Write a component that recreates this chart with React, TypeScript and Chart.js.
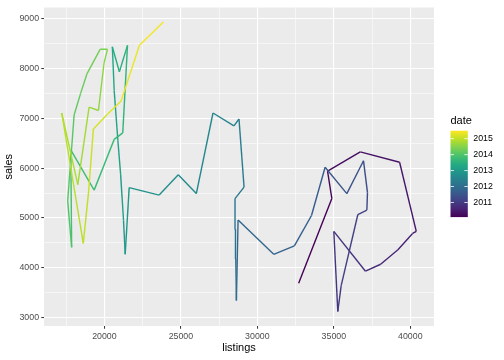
import React, { useEffect, useRef } from "react";
import { Chart, registerables } from "chart.js";

Chart.register(...registerables);

const months = [
  "2010-02", "2010-03", "2010-04", "2010-05", "2010-06", "2010-07", "2010-08", "2010-09", "2010-10", "2010-11", "2010-12",
  "2011-01", "2011-02", "2011-03", "2011-04", "2011-05", "2011-06", "2011-07", "2011-08", "2011-09", "2011-10", "2011-11", "2011-12",
  "2012-01", "2012-02", "2012-03", "2012-04", "2012-05", "2012-06", "2012-07", "2012-08", "2012-09", "2012-10", "2012-11", "2012-12",
  "2013-01", "2013-02", "2013-03", "2013-04", "2013-05", "2013-06", "2013-07", "2013-08", "2013-09", "2013-10", "2013-11", "2013-12",
  "2014-01", "2014-02", "2014-03", "2014-04", "2014-05", "2014-06", "2014-07", "2014-08", "2014-09", "2014-10", "2014-11", "2014-12",
  "2015-01", "2015-02", "2015-03", "2015-04", "2015-05", "2015-06", "2015-07",
];

const listings = [
  32700, 34870, 34590, 36730, 39300, 40390, 40150, 39190, 38060, 37070, 35000,
  35260, 35480, 36570, 37160, 37200, 36940, 35850, 34430, 33540, 32420, 31070, 28740,
  28630, 28590, 28570, 28540, 29130, 28800, 28470, 27100, 26010, 24830, 23580, 21620,
  21360, 21250, 21060, 20880, 20640, 20520, 20980, 21510, 21200, 20640, 19330, 17800,
  17860, 17600, 18020, 18440, 18850, 19720, 20200, 19980, 19610, 19000, 18260, 17210,
  18620, 18970, 19280, 20180, 21090, 22290, 23860,
];

const sales = [
  3690, 5390, 5940, 6330, 6120, 4730, 4690, 4360, 4070, 3930, 4730,
  3120, 3640, 5070, 5160, 5510, 6150, 5490, 6020, 5050, 4440, 4270, 4960,
  3340, 4180, 4780, 5390, 5620, 6990, 6850, 7110, 5490, 5870, 5460, 5610,
  4270, 4950, 5880, 6560, 7560, 8440, 7940, 8470, 6710, 6580, 5560, 6370,
  4410, 5340, 7070, 7500, 7890, 8390, 8390, 8120, 7160, 7230, 5670, 7110,
  4490, 5540, 6790, 7080, 7350, 8470, 8940,
];

const xMajorTicks = [20000, 25000, 30000, 35000, 40000];
const xMinorTicks = [17500, 22500, 27500, 32500, 37500];
const yMajorTicks = [3000, 4000, 5000, 6000, 7000, 8000, 9000];
const yMinorTicks = [3500, 4500, 5500, 6500, 7500, 8500];
const legendTicks = [2011, 2012, 2013, 2014, 2015];

const VIRIDIS = [
  "#440154", "#482576", "#414487", "#35608D", "#2A788E", "#21908C",
  "#22A884", "#43BF71", "#7AD151", "#BBDF27", "#FDE725",
];

const FONT = '"Liberation Sans", Arial, Helvetica, sans-serif';

function hexToRgb(h: string) {
  const n = parseInt(h.slice(1), 16);
  return [(n >> 16) & 255, (n >> 8) & 255, n & 255];
}

function viridis(t: number) {
  const tt = Math.max(0, Math.min(1, t));
  const pos = tt * (VIRIDIS.length - 1);
  const i = Math.min(VIRIDIS.length - 2, Math.floor(pos));
  const f = pos - i;
  const a = hexToRgb(VIRIDIS[i]);
  const b = hexToRgb(VIRIDIS[i + 1]);
  const c = a.map((v, k) => Math.round(v + (b[k] - v) * f));
  return `rgb(${c[0]},${c[1]},${c[2]})`;
}

const decimalDates = months.map((m) => {
  const [y, mo] = m.split("-").map(Number);
  return y + (mo - 1) / 12;
});
const dMin = Math.min(...decimalDates);
const dMax = Math.max(...decimalDates);

function expand(values: number[]) {
  const lo = Math.min(...values);
  const hi = Math.max(...values);
  const pad = (hi - lo) * 0.05;
  return [lo - pad, hi + pad];
}

const [xMin, xMax] = expand(listings);
const [yMin, yMax] = expand(sales);

const panelBg = {
  id: "panelBg",
  beforeDraw(chart: any) {
    const { ctx, chartArea } = chart;
    ctx.save();
    ctx.fillStyle = "#EBEBEB";
    ctx.fillRect(chartArea.left, chartArea.top, chartArea.right - chartArea.left, chartArea.bottom - chartArea.top);
    ctx.restore();
  },
};

const colorbar = {
  id: "colorbar",
  afterDraw(chart: any) {
    const ctx = chart.ctx;
    const bx = 450.5;
    const by = 130.7;
    const bw = 17.3;
    const bh = 86.4;
    ctx.save();
    const grad = ctx.createLinearGradient(0, by + bh, 0, by);
    VIRIDIS.forEach((c, i) => grad.addColorStop(i / (VIRIDIS.length - 1), c));
    ctx.fillStyle = grad;
    ctx.fillRect(bx, by, bw, bh);
    ctx.strokeStyle = "#FFFFFF";
    ctx.lineWidth = 0.8;
    ctx.fillStyle = "#000000";
    ctx.font = `8.8px ${FONT}`;
    ctx.textAlign = "left";
    ctx.textBaseline = "middle";
    legendTicks.forEach((yr) => {
      const y = by + ((dMax - yr) / (dMax - dMin)) * bh;
      ctx.beginPath();
      ctx.moveTo(bx, y);
      ctx.lineTo(bx + bw * 0.2, y);
      ctx.moveTo(bx + bw, y);
      ctx.lineTo(bx + bw * 0.8, y);
      ctx.stroke();
      ctx.fillText(String(yr), bx + bw + 5.5, y);
    });
    ctx.font = `11px ${FONT}`;
    ctx.textBaseline = "alphabetic";
    ctx.fillText("date", bx, by - 6.5);
    ctx.restore();
  },
};

function makeScale(major: number[], minor: number[], min: number, max: number, title: string, isX: boolean) {
  return {
    type: "linear",
    min,
    max,
    afterBuildTicks: (scale: any) => {
      scale.ticks = [...major, ...minor].sort((a, b) => a - b).map((v) => ({ value: v }));
    },
    afterFit: (scale: any) => {
      if (isX) scale.height = 34;
      else scale.width = 44;
    },
    border: { display: false },
    grid: {
      color: "#FFFFFF",
      lineWidth: (c: any) => (major.includes(c.tick?.value) ? 1.1 : 0.55),
      drawTicks: true,
      tickLength: 2.75,
      tickWidth: 1.0,
      tickColor: (c: any) => (major.includes(c.tick?.value) ? "#333333" : "rgba(0,0,0,0)"),
    },
    ticks: {
      autoSkip: false,
      maxRotation: 0,
      minRotation: 0,
      padding: 2.2,
      color: "#4D4D4D",
      font: { family: FONT, size: 8.8 },
      callback: (v: any) => (major.includes(v) ? String(v) : ""),
    },
    title: {
      display: true,
      text: title,
      color: "#000000",
      font: { family: FONT, size: 11 },
      padding: isX ? { top: 0, bottom: 5 } : { top: 2, bottom: 0 },
    },
  };
}

export default function App() {
  const ref = useRef<HTMLCanvasElement | null>(null);
  useEffect(() => {
    if (!ref.current) return;
    const points = listings.map((x, i) => ({ x, y: sales[i] }));
    const chart = new Chart(ref.current, {
      type: "scatter",
      data: {
        datasets: [
          {
            data: points,
            showLine: true,
            pointRadius: 0,
            pointHoverRadius: 0,
            borderWidth: 1.4,
            borderCapStyle: "butt",
            borderJoinStyle: "round",
            borderColor: viridis(0),
            segment: {
              borderColor: (c: any) => viridis((decimalDates[c.p0DataIndex] - dMin) / (dMax - dMin)),
            },
          } as any,
        ],
      },
      options: {
        animation: false,
        responsive: false,
        maintainAspectRatio: false,
        layout: { padding: { left: 0, right: 70, top: 5, bottom: 0 } },
        plugins: { legend: { display: false }, tooltip: { enabled: false } },
        scales: {
          x: makeScale(xMajorTicks, xMinorTicks, xMin, xMax, "listings", true) as any,
          y: makeScale(yMajorTicks, yMinorTicks, yMin, yMax, "sales", false) as any,
        },
      },
      plugins: [panelBg, colorbar],
    });
    return () => chart.destroy();
  }, []);
  return (
    <div style={{ position: "fixed", left: 0, top: 0, width: 504, height: 360, background: "#FFFFFF" }}>
      <canvas ref={ref} width={504} height={360} style={{ width: 504, height: 360, display: "block" }} />
    </div>
  );
}
